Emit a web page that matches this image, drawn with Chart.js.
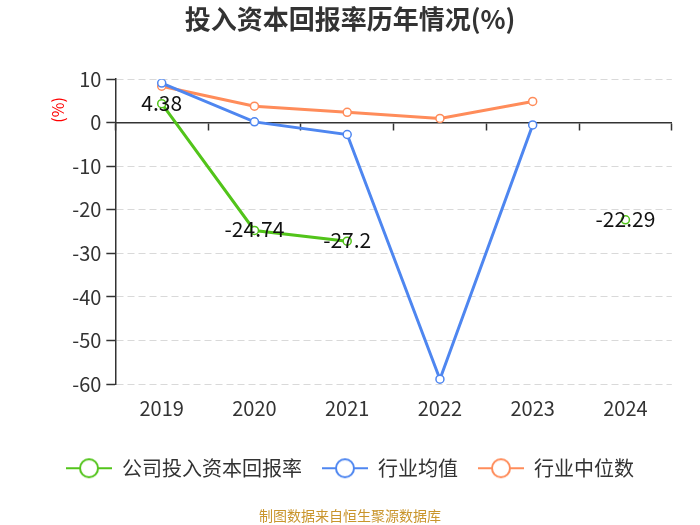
<!DOCTYPE html>
<html>
<head>
<meta charset="utf-8">
<script src="https://cdn.jsdelivr.net/npm/chart.js@4.4.1/dist/chart.umd.min.js"></script>
<style>
    html, body { margin: 0; padding: 0; background: #fff; }
    #box { width: 700px; height: 525px; }
</style>
</head>
<body>
<div id="box"><canvas id="roic"></canvas></div>
<script>
const years = ["2019", "2020", "2021", "2022", "2023", "2024"];
const companyRate = [4.38, -24.74, -27.2, null, null, -22.29];
const industryAvg = [9.1, 0.2, -2.7, -58.9, -0.5, null];
const industryMedian = [8.4, 3.8, 2.4, 1.0, 4.9, null];
const yTicks = [10, 0, -10, -20, -30, -40, -50, -60];

const FONT = "'Noto Sans CJK SC', 'Noto Sans', sans-serif";
const GREEN = "#52c41a";
const BLUE = "#4e86f0";
const ORANGE = "#ff8c5a";

// legend marker: line with a hollow circle in the middle
function legendMarker(color) {
    const c = document.createElement("canvas");
    c.width = 46;
    c.height = 22;
    const g = c.getContext("2d");
    g.strokeStyle = color;
    g.lineWidth = 2;
    g.beginPath();
    g.moveTo(0, 11);
    g.lineTo(46, 11);
    g.stroke();
    g.fillStyle = "#fff";
    g.beginPath();
    g.arc(23, 11, 9, 0, Math.PI * 2);
    g.fill();
    g.stroke();
    return c;
}

// value labels for the company series
const valueLabels = {
    id: "valueLabels",
    afterDatasetsDraw(chart) {
        const ctx = chart.ctx;
        const meta = chart.getDatasetMeta(0);
        ctx.save();
        ctx.font = "21px " + FONT;
        ctx.fillStyle = "#111";
        ctx.textAlign = "center";
        ctx.textBaseline = "middle";
        meta.data.forEach((pt, i) => {
            const v = companyRate[i];
            if (v === null) return;
            ctx.fillText(String(v), pt.x, pt.y - 1);
        });
        ctx.restore();
    }
};

function series(label, data, color) {
    return {
        label: label,
        data: data,
        borderColor: color,
        backgroundColor: "#fff",
        borderWidth: 3,
        pointRadius: 4,
        pointBorderWidth: 1.5,
        pointBackgroundColor: "#fff",
        pointBorderColor: color,
        pointStyle: "circle",
        spanGaps: false
    };
}

window.onload = () => {
    const ctx = document.getElementById("roic").getContext("2d");

    new Chart(ctx, {
        type: "line",
        data: {
            labels: years,
            datasets: [
                series("公司投入资本回报率", companyRate, GREEN),
                series("行业均值", industryAvg, BLUE),
                series("行业中位数", industryMedian, ORANGE)
            ]
        },
        options: {
            responsive: true,
            maintainAspectRatio: false,
            animation: false,
            layout: { padding: { left: 14, right: 14, top: 4, bottom: 0 } },
            plugins: {
                title: {
                    display: true,
                    text: "投入资本回报率历年情况(%)",
                    color: "#333",
                    font: { family: FONT, size: 26, weight: "bold" },
                    padding: { top: 0, bottom: 44 }
                },
                subtitle: {
                    display: true,
                    position: "bottom",
                    text: "制图数据来自恒生聚源数据库",
                    color: "#c9952c",
                    font: { family: FONT, size: 14 },
                    padding: { top: 19, bottom: 1 }
                },
                legend: {
                    position: "bottom",
                    labels: {
                        usePointStyle: true,
                        pointStyleWidth: 46,
                        boxHeight: 20,
                        color: "#333",
                        font: { family: FONT, size: 20 },
                        padding: 20,
                        generateLabels(chart) {
                            return chart.data.datasets.map((d, i) => ({
                                text: d.label,
                                fontColor: "#333",
                                pointStyle: legendMarker(d.borderColor),
                                strokeStyle: d.borderColor,
                                fillStyle: "#fff",
                                lineWidth: 0,
                                datasetIndex: i
                            }));
                        }
                    }
                },
                tooltip: { enabled: false }
            },
            scales: {
                x: {
                    offset: true,
                    grid: { display: false, drawTicks: false },
                    border: { display: false },
                    ticks: {
                        color: "#333",
                        font: { family: FONT, size: 20 },
                        padding: 12
                    },
                    title: {
                        display: true,
                        text: " ",
                        font: { size: 1 },
                        padding: { top: 0, bottom: 5 }
                    }
                },
                zero: {
                    type: "category",
                    labels: years,
                    axis: "x",
                    position: { y: 0 },
                    offset: true,
                    grid: {
                        offset: true,
                        drawOnChartArea: false,
                        drawTicks: true,
                        tickLength: 7,
                        tickColor: "#333",
                        tickWidth: 1.5
                    },
                    border: { display: true, color: "#333", width: 1.5 },
                    ticks: { display: false }
                },
                y: {
                    min: -60,
                    max: 10,
                    afterBuildTicks(axis) {
                        axis.ticks = yTicks.map(v => ({ value: v }));
                    },
                    grid: {
                        color: "#d9d9d9",
                        lineWidth: 1,
                        tickColor: "#333",
                        tickLength: 9,
                        tickWidth: 1.5
                    },
                    border: { display: true, color: "#333", width: 1.5, dash: [7, 4] },
                    ticks: {
                        color: "#333",
                        font: { family: FONT, size: 20 },
                        padding: 5
                    },
                    title: {
                        display: true,
                        text: "(%)     ",
                        align: "end",
                        color: "#f00",
                        font: { family: FONT, size: 16 },
                        padding: { top: 34, bottom: 0 }
                    }
                },
                // empty right-hand axis, only keeps a margin on the right
                yr: {
                    position: "right",
                    grid: { display: false, drawTicks: false },
                    border: { display: false },
                    ticks: { display: false },
                    title: {
                        display: true,
                        text: " ",
                        font: { size: 1 },
                        padding: { top: 0, bottom: 13 }
                    }
                }
            }
        },
        plugins: [valueLabels]
    });
};
</script>
</body>
</html>
